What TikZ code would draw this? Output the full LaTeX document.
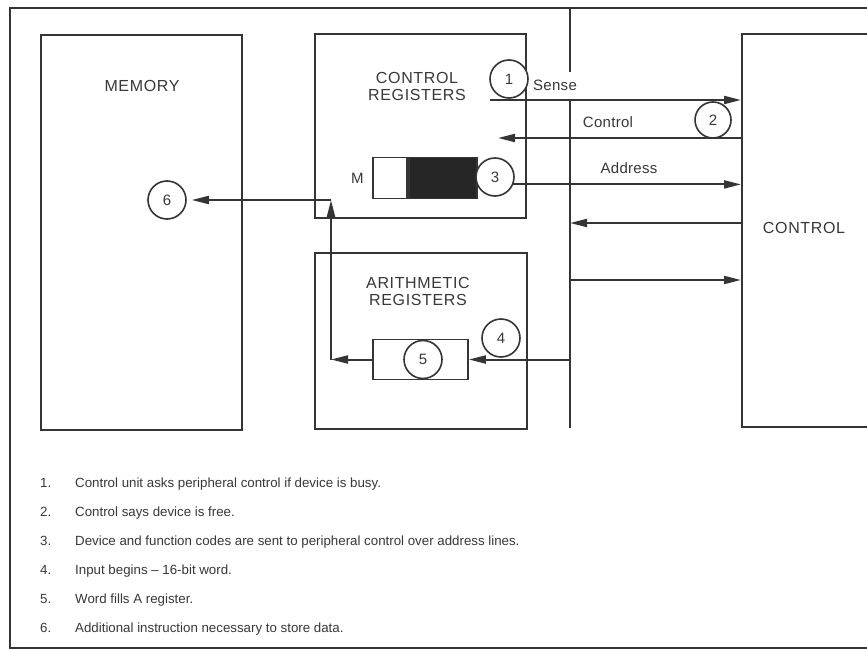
\documentclass[tikz,border=0pt]{standalone}
\usepackage{fontspec}
\setmainfont{Liberation Sans}
\usetikzlibrary{arrows.meta, positioning, calc}
\definecolor{PlateInk}{HTML}{353535}
\definecolor{PlateText}{HTML}{383838}
\definecolor{PlateBlack}{HTML}{262626}
\tikzset{
    % Unit boxes with sharp corners
    unit/.style={
        rectangle,
        draw=PlateInk,
        line width=2pt,
        inner sep=0pt
    },
    register/.style={
        rectangle,
        draw=PlateInk,
        line width=1.8pt,
        inner sep=0pt,
        minimum height=41pt
    },
    callout/.style={
        circle,
        draw=PlateInk,
        fill=white,
        line width=1.6pt,
        minimum size=38pt,
        inner sep=0pt,
        text=PlateText,
        font=\fontsize{15}{15}\selectfont
    },
    unit label/.style={
        text=PlateText,
        align=center,
        font=\fontsize{16}{17}\selectfont\addfontfeature{LetterSpace=4}
    },
    line label/.style={
        text=PlateText,
        font=\fontsize{15}{16}\selectfont\addfontfeature{LetterSpace=2}
    },
    note/.style={
        text=PlateText,
        anchor=base west,
        inner sep=0pt,
        font=\fontsize{13.3}{14}\selectfont
    },
    wire/.style={
        line width=2pt,
        PlateInk
    },
    arrow style/.style={
        -{Triangle[length=17pt,width=8pt]},
        line width=2pt,
        PlateInk
    }
}

\begin{document}
\begin{tikzpicture}[x=1pt, y=-1pt]
        \clip (0,0) rectangle (867,650);
        \fill[white] (0,0) rectangle (867,650);

        % Outer frame
        \draw[wire] (10,8) rectangle (920,648);

        % Memory
        \node[unit, minimum width=201pt, minimum height=395pt] (memory) at (141.5,232.5) {};
        \node[unit label] (memory label) at (142,86) {MEMORY};

        % Control registers
        \node[unit, minimum width=211pt, minimum height=184pt] (creg) at (420.5,126) {};
        \node[unit label] (creg label) at (417,86) {CONTROL\\REGISTERS};

        % Arithmetic registers
        \node[unit, minimum width=212pt, minimum height=176pt] (areg) at (421,341) {};
        \node[unit label] (areg label) at (418,291) {ARITHMETIC\\REGISTERS};

        % Peripheral control
        \node[unit, minimum width=180pt, minimum height=393pt] (control) at (832,230.5) {};
        \node[unit label] (control label) at (804,228) {CONTROL};

        % M register
        \node[register, minimum width=34pt] (mfree) at (390,178) {};
        \node[register, fill=PlateBlack, minimum width=68pt, right=0pt of mfree] (mused) {};
        \node[line label, left=5pt of mfree] (m label) {M};

        % A register
        \node[register, minimum width=95pt, minimum height=40pt] (aword) at (420.5,359.5) {};

        % Step callouts
        \node[callout] (c1) at (509,79) {1};
        \node[callout, minimum size=36pt] (c2) at (713,120) {2};
        \node[callout] (c3) at (495,177) {3};
        \node[callout] (c4) at (501,338) {4};
        \node[callout] (c5) at (423,359.5) {5};
        \node[callout] (c6) at (167,200) {6};

        % Line labels
        \node[line label] (sense label) at (555,85) {Sense};
        \node[line label] (ctrl label) at (608,122) {Control};
        \node[line label] (addr label) at (629,168) {Address};

        % Bus
        \coordinate (bus top) at (570,8);
        \coordinate (bus gap) at (570,72);
        \coordinate (bus low) at (570,100);
        \coordinate (bus end) at (570,428);
        \draw[wire] (bus top) -- (bus gap);
        \draw[wire] (bus low) -- (bus end);

        % Sense, control and address lines
        \coordinate (sense) at (490,100);
        \coordinate (ctrl in) at (498,138);
        \draw[arrow style] (sense) -- (sense -| control.west);
        \draw[arrow style] (ctrl in -| control.west) -- (ctrl in);
        \draw[arrow style] (c3.-22) -- (c3.-22 -| control.west);

        % Bus to and from control
        \coordinate (bus in) at (570,223);
        \coordinate (bus out) at (570,280);
        \draw[arrow style] (bus in -| control.west) -- (bus in);
        \draw[arrow style] (bus out) -- (bus out -| control.west);

        % Word into A and on to memory
        \coordinate (turn) at (331,359.5);
        \coordinate (corner) at (331,200);
        \draw[arrow style] (aword.east -| bus end) -- (aword.east);
        \draw[arrow style] (aword.west) -- (turn);
        \draw[arrow style] (turn) -- (corner);
        \draw[arrow style, shorten >=5pt] (corner) -- (c6);

        % Notes
        \node[note] (note1) at (40,487) {\makebox[35pt][l]{1.}Control unit asks peripheral control if device is busy.};
        \node[note] (note2) at (40,516) {\makebox[35pt][l]{2.}Control says device is free.};
        \node[note] (note3) at (40,545) {\makebox[35pt][l]{3.}Device and function codes are sent to peripheral control over address lines.};
        \node[note] (note4) at (40,574) {\makebox[35pt][l]{4.}Input begins -- 16-bit word.};
        \node[note] (note5) at (40,603) {\makebox[35pt][l]{5.}Word fills A register.};
        \node[note] (note6) at (40,632) {\makebox[35pt][l]{6.}Additional instruction necessary to store data.};
\end{tikzpicture}
\end{document}
